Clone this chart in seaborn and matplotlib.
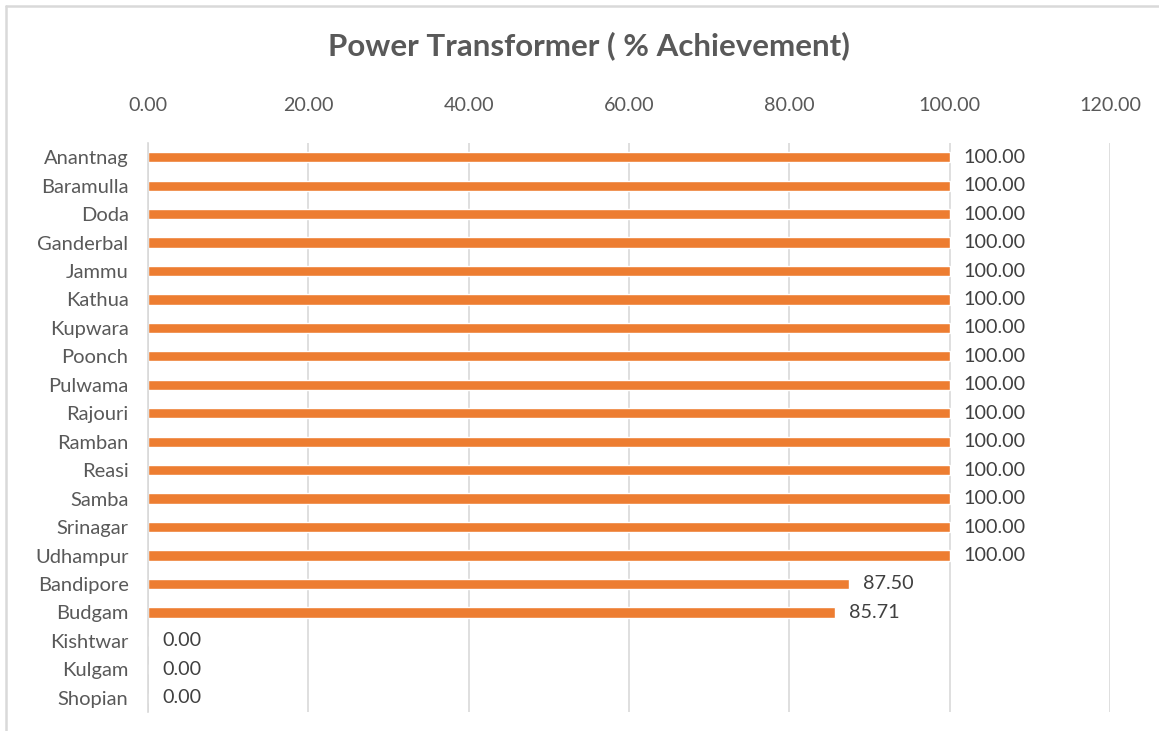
import matplotlib
matplotlib.use("Agg")
import matplotlib.pyplot as plt
import seaborn as sns
import pandas as pd
from matplotlib.lines import Line2D

# === Data ===
districts = ["Anantnag", "Baramulla", "Doda", "Ganderbal", "Jammu", "Kathua",
             "Kupwara", "Poonch", "Pulwama", "Rajouri", "Ramban", "Reasi",
             "Samba", "Srinagar", "Udhampur", "Bandipore", "Budgam",
             "Kishtwar", "Kulgam", "Shopian"]
achievement = [100.00, 100.00, 100.00, 100.00, 100.00, 100.00, 100.00, 100.00,
               100.00, 100.00, 100.00, 100.00, 100.00, 100.00, 100.00,
               87.50, 85.71, 0.00, 0.00, 0.00]
x_ticks = [0, 20, 40, 60, 80, 100, 120]

df = pd.DataFrame({"district": districts, "pct": achievement})

sns.set_theme(style="white")
plt.rcParams['font.family'] = ['Lato', 'DejaVu Sans']

BAR_COLOR = "#ED7D31"
TEXT_COLOR = "#595959"
GRID_COLOR = "#D9D9D9"

fig = plt.figure(figsize=(11.59, 7.31), dpi=100)
ax = fig.add_axes([0.1277, 0.026, 0.830, 0.7784])

sns.barplot(data=df, x="pct", y="district", orient="h", color=BAR_COLOR,
            width=0.36, saturation=1, ax=ax)

ax.set_xlim(0, 120)
ax.set_ylim(len(districts) - 0.5, -0.5)
ax.set_xticks(x_ticks)
ax.set_xticklabels([f"{v:.2f}" for v in x_ticks])
ax.xaxis.tick_top()
ax.tick_params(axis="x", length=0, pad=21, labelsize=14.2, labelcolor=TEXT_COLOR)
ax.tick_params(axis="y", length=0, pad=14, labelsize=14.5, labelcolor=TEXT_COLOR)
ax.set_xlabel("")
ax.set_ylabel("")

# vertical grid lines
ax.grid(axis="x", color=GRID_COLOR, linewidth=1.2)
ax.set_axisbelow(True)
for s in ["top", "right", "bottom"]:
    ax.spines[s].set_visible(False)
ax.spines["left"].set_color(GRID_COLOR)
ax.spines["left"].set_linewidth(1.2)

# data labels
for cont in ax.containers:
    ax.bar_label(cont, labels=[f"{v:.2f}" for v in achievement],
                 padding=10, fontsize=14.2, color="#404040")

fig.suptitle("Power Transformer ( % Achievement)", x=0.508, y=0.937, va="center",
             fontsize=22.5, fontweight="bold", color=TEXT_COLOR)

# chart border (only top and left edges visible in the crop)
fig.add_artist(Line2D([0.0055, 0.0055], [0.0, 0.992], transform=fig.transFigure,
                      color=GRID_COLOR, linewidth=1.8))
fig.add_artist(Line2D([0.0055, 1.0], [0.992, 0.992], transform=fig.transFigure,
                      color=GRID_COLOR, linewidth=1.8))

fig.savefig("out.png", dpi=100)
